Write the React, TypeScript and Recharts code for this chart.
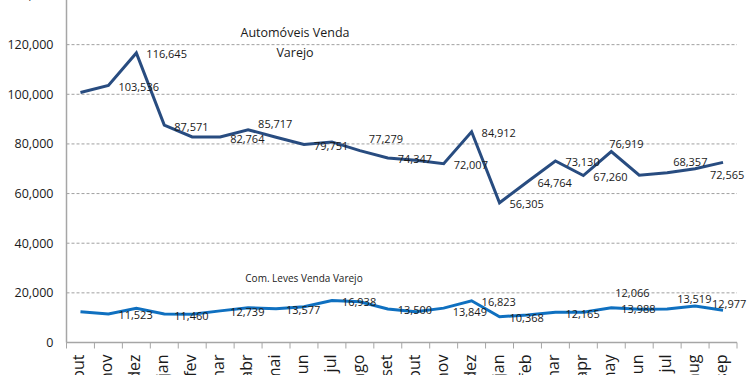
import React from 'react'
import { LineChart, Line, XAxis, YAxis, CartesianGrid } from 'recharts'

const meses = ['out', 'nov', 'dez', 'jan', 'fev', 'mar', 'abr', 'mai', 'jun', 'jul', 'ago', 'set', 'out', 'nov', 'dez', 'jan', 'feb', 'mar', 'apr', 'may', 'jun', 'jul', 'aug', 'sep']
const automoveisVarejo = [100700, 103536, 116645, 87571, 82800, 82764, 85717, 82700, 79751, 80800, 77279, 74347, 73400, 72007, 84912, 56305, 64764, 73130, 67260, 76919, 67400, 68357, 70000, 72565]
const automoveisRotulos = [null, 103536, 116645, 87571, null, 82764, 85717, null, 79751, null, 77279, 74347, null, 72007, 84912, 56305, 64764, 73130, 67260, 76919, null, 68357, null, 72565]
const comLevesVarejo = [12400, 11523, 13800, 11460, 11400, 12739, 14000, 13577, 14400, 16938, 16400, 13500, 12400, 13849, 16823, 10368, 11100, 12165, 12200, 13988, 13400, 13519, 14700, 12977]
const comLevesRotulos = [null, 11523, null, 11460, null, 12739, null, 13577, null, 16938, null, 13500, null, 13849, 16823, 10368, null, 12165, null, 13988, 12066, 13519, null, 12977]
const yTicks = [0, 20000, 40000, 60000, 80000, 100000, 120000, 140000]

const dados = meses.map((mes, i) => ({ mes, auto: automoveisVarejo[i], leves: comLevesVarejo[i] }))

const FONTE = '"Open Sans", sans-serif'
const LARGURA = 750
const ALTURA = 375
const EIXO_Y = 66.5
const MARGEM_DIR = 13
const meiaBanda = (LARGURA - EIXO_Y - MARGEM_DIR) / meses.length / 2

// deslocamento dos rótulos (padrão: à direita do ponto)
const ajusteAuto: Record<number, [number, number]> = { 6: [10, -6], 10: [9, -12], 19: [-2, -8], 21: [6, -11], 23: [-13, 12] }
const ajusteLeves: Record<number, [number, number]> = { 13: [9, 3], 20: [-24, -17], 21: [10, -10], 23: [-11, -7] }

function rotulo(valores: (number | null)[], ajustes: Record<number, [number, number]>) {
  return (props: any) => {
    const { cx, cy, index } = props
    const v = valores[index]
    if (v == null || cx == null) return <g key={index} />
    const [dx, dy] = ajustes[index] ?? [10, 1]
    return (
      <text key={index} x={cx + dx} y={cy + dy} dominantBaseline="central" fontSize={11} fontFamily={FONTE} fill="#1a1a1a">
        {v.toLocaleString('en-US')}
      </text>
    )
  }
}

function MesTick(props: any) {
  const { x, y, payload, index } = props
  return (
    <g>
      <line x1={x - meiaBanda} x2={x - meiaBanda} y1={y} y2={y + 6} stroke="#A6A6A6" />
      {index === meses.length - 1 && <line x1={x + meiaBanda} x2={x + meiaBanda} y1={y} y2={y + 6} stroke="#A6A6A6" />}
      <text transform={`translate(${x - 2},${y + 12}) rotate(-90)`} textAnchor="end" dominantBaseline="central" fontSize={16} fontFamily={FONTE} fill="#1a1a1a">
        {payload.value}
      </text>
    </g>
  )
}

export default function App() {
  return (
    <div style={{ position: 'absolute', left: 0, top: 0, width: LARGURA, height: ALTURA, background: '#fff', overflow: 'hidden' }}>
      <LineChart width={LARGURA} height={ALTURA} data={dados} margin={{ top: -5, right: MARGEM_DIR, bottom: 0, left: 0 }}>
        <CartesianGrid vertical={false} stroke="#A0A0A0" strokeDasharray="3 2" />
        <XAxis
          dataKey="mes"
          padding={{ left: meiaBanda, right: meiaBanda }}
          height={32.5}
          axisLine={{ stroke: '#A6A6A6', strokeWidth: 1.5 }}
          tickLine={false}
          tickSize={0}
          tickMargin={0}
          interval={0}
          tick={<MesTick />}
        />
        <YAxis
          width={EIXO_Y}
          domain={[0, 140000]}
          ticks={yTicks}
          interval={0}
          axisLine={{ stroke: '#A6A6A6', strokeWidth: 1.5 }}
          tickLine={false}
          tickSize={6}
          tickMargin={7}
          tick={{ fontSize: 12.5, fontFamily: FONTE, fill: '#1a1a1a' }}
          tickFormatter={(v: number) => v.toLocaleString('en-US')}
        />
        <Line dataKey="leves" stroke="#0F70C0" strokeWidth={3} dot={rotulo(comLevesRotulos, ajusteLeves)} activeDot={false} isAnimationActive={false} />
        <Line dataKey="auto" stroke="#284C80" strokeWidth={3} dot={rotulo(automoveisRotulos, ajusteAuto)} activeDot={false} isAnimationActive={false} />
      </LineChart>
      <div style={{ position: 'absolute', left: 195, top: 23, width: 200, textAlign: 'center', fontFamily: FONTE, fontSize: 12.5, lineHeight: '19.5px', color: '#1a1a1a' }}>
        Automóveis Venda<br />Varejo
      </div>
      <div style={{ position: 'absolute', left: 204, top: 271, width: 200, textAlign: 'center', fontFamily: FONTE, fontSize: 10, lineHeight: '14px', color: '#1a1a1a' }}>
        Com. Leves Venda Varejo
      </div>
    </div>
  )
}
